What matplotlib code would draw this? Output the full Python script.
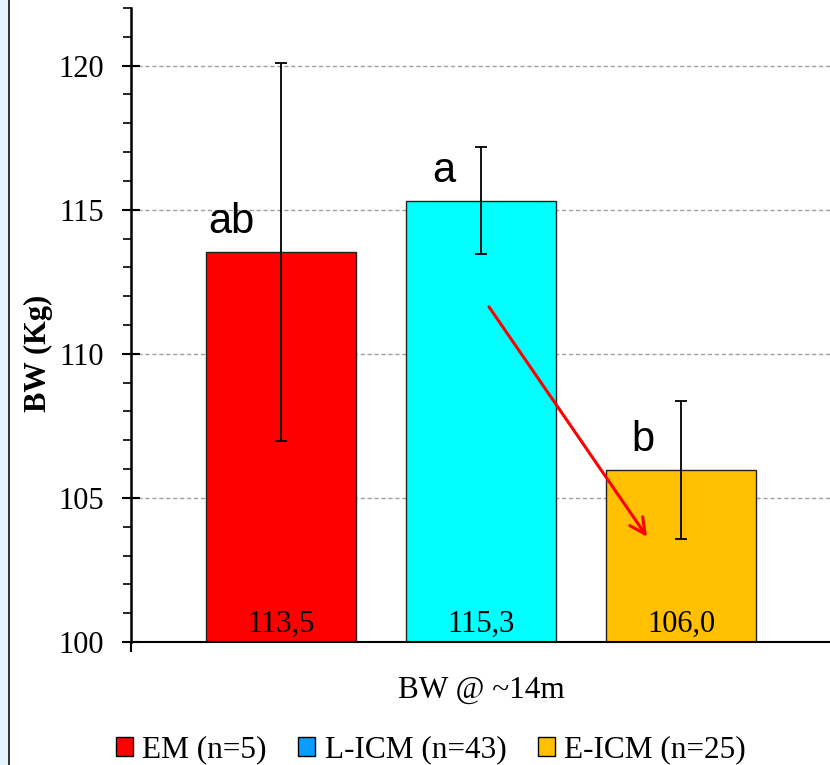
import matplotlib
matplotlib.use('Agg')
import matplotlib.pyplot as plt
from matplotlib.patches import Patch, Rectangle
from matplotlib.lines import Line2D
from matplotlib.ticker import MultipleLocator

# data
groups = ['EM (n=5)', 'L-ICM (n=43)', 'E-ICM (n=25)']
bw_means = [113.54, 115.31, 105.97]
bw_err = [6.55, 1.85, 2.4]
value_labels = ['113,5', '115,3', '106,0']
sig_letters = ['ab', 'a', 'b']
bar_colors = ['#ff0000', '#00ffff', '#ffc000']
legend_colors = ['#ff0000', '#0a9cff', '#ffc000']

SERIF = ['Liberation Serif', 'DejaVu Serif']
SANS = ['Liberation Sans', 'DejaVu Sans']

fig = plt.figure(figsize=(8.3, 7.65), dpi=100)
ax = fig.add_axes([131 / 830, 1 - 642 / 765, 700 / 830, 634 / 765])

x = list(range(len(groups)))
ax.bar(x, bw_means, width=0.75, color=bar_colors, edgecolor='#222222',
       linewidth=1.0, zorder=2)
ax.errorbar(x, bw_means, yerr=bw_err, fmt='none', ecolor='black',
            elinewidth=1.3, capsize=4.5, capthick=1.3, zorder=3)

for i, (m, lab, let) in enumerate(zip(bw_means, value_labels, sig_letters)):
    ax.text(i, 100.35, lab, ha='center', va='baseline', fontsize=22,
            family=SERIF, zorder=4)
    ax.text(i - 0.13, m + 0.65, let, ha='right', va='baseline', fontsize=30,
            family=SANS, zorder=4)

# red arrow from L-ICM down to E-ICM
ax.annotate('', xy=(1.83, 103.65), xytext=(1.04, 111.63),
            arrowprops=dict(arrowstyle='->', color='red', lw=2.2,
                            mutation_scale=28, shrinkA=0, shrinkB=0),
            zorder=5)

ax.set_xlim(-0.75, 2.75)
ax.set_ylim(100, 122)
ax.yaxis.set_major_locator(MultipleLocator(5))
ax.yaxis.set_minor_locator(MultipleLocator(1))
ax.set_yticks([100, 105, 110, 115, 120])
ax.set_yticklabels(['100', '105', '110', '115', '120'], family=SERIF, fontsize=22)
ax.tick_params(axis='y', which='major', direction='inout', length=13, width=1.5, pad=13)
ax.tick_params(axis='y', which='minor', direction='out', length=6, width=1.2)
ax.set_xticks([-0.75])
ax.set_xticklabels([''])
ax.tick_params(axis='x', direction='out', length=7, width=1.5)

ax.yaxis.grid(True, which='major', linestyle=(0, (3, 2)), color='#a0a0a0',
              linewidth=1.0, zorder=0)
ax.set_axisbelow(True)
for s in ['top', 'right']:
    ax.spines[s].set_visible(False)
ax.spines['left'].set_linewidth(1.8)
ax.spines['bottom'].set_linewidth(1.5)
ax.spines['bottom'].set_zorder(3)

fig.text(38 / 830, 1 - 353 / 765, 'BW (Kg)', rotation=90, ha='center', va='center',
         fontsize=22, fontweight='bold', family=SERIF)
fig.text(481 / 830, 1 - 690 / 765, 'BW @ ~14m', ha='center', va='center',
         fontsize=22.5, family=SERIF)

handles = [Patch(facecolor=c, edgecolor='black', linewidth=1.0) for c in legend_colors]
fig.legend(handles, groups, loc='center', bbox_to_anchor=(431 / 830, 1 - 750 / 765),
           ncol=3, frameon=False, handlelength=0.55, handleheight=0.55,
           handletextpad=0.3, columnspacing=1.0,
           prop={'family': SERIF, 'size': 22.5})

# light blue strip and frame line on the left edge
fig.patches.append(Rectangle((0, 0), 8 / 830, 1, transform=fig.transFigure,
                             facecolor='#e2f5fc', edgecolor='none', zorder=0))
fig.lines.append(Line2D([8.5 / 830, 8.5 / 830], [0, 1], transform=fig.transFigure,
                        color='#222222', linewidth=1.3))

fig.savefig('out.png', dpi=100)
